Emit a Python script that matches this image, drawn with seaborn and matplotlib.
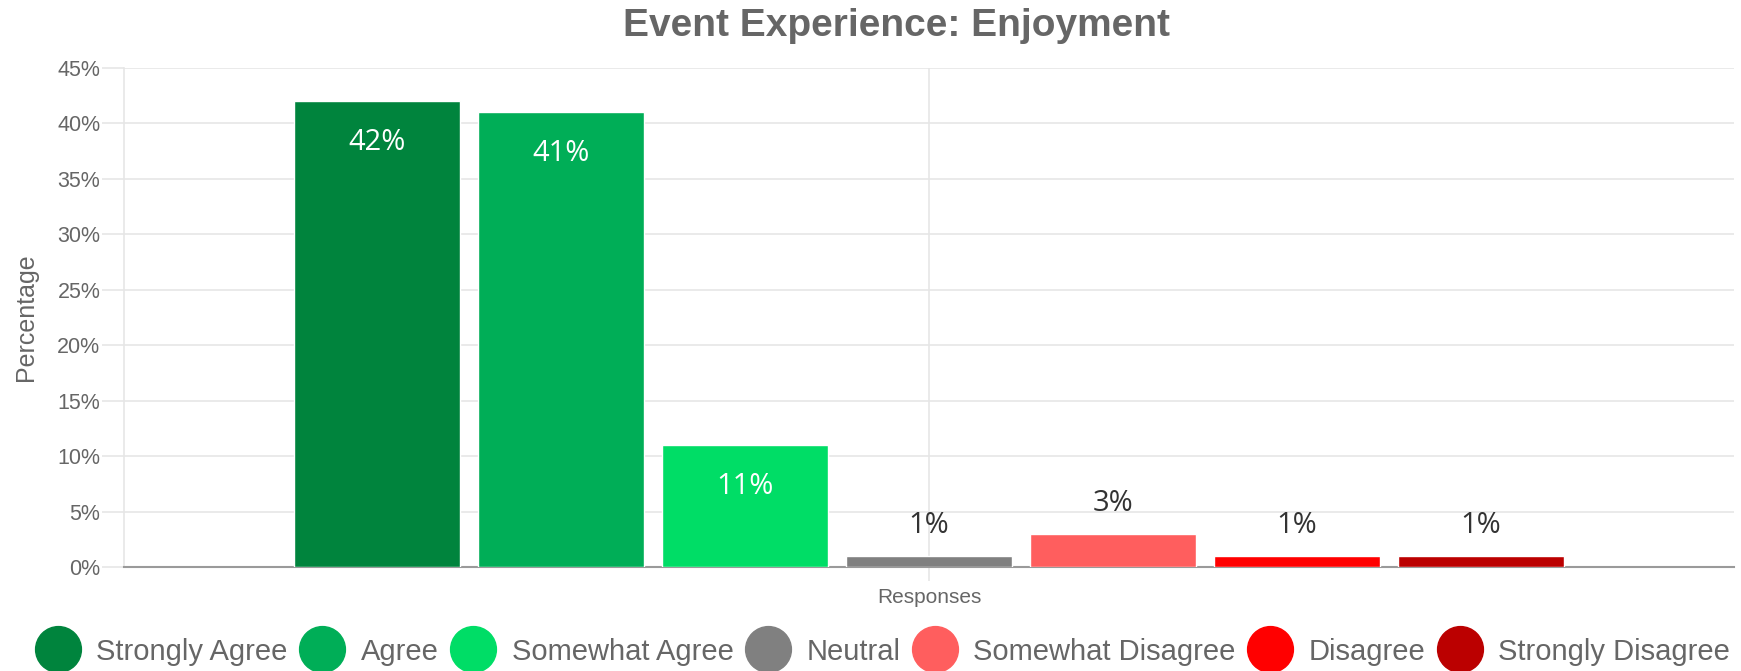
import matplotlib
matplotlib.use("Agg")
import matplotlib.pyplot as plt
from matplotlib.lines import Line2D
from matplotlib.ticker import FuncFormatter, MultipleLocator
import seaborn as sns
import pandas as pd

# Survey responses
categories = ["Strongly Agree", "Agree", "Somewhat Agree", "Neutral",
              "Somewhat Disagree", "Disagree", "Strongly Disagree"]
percentages = [42, 41, 11, 1, 3, 1, 1]
colors = ["#00843d", "#00ae57", "#00dd66", "#808080",
          "#ff5e5e", "#ff0000", "#bb0000"]
group_label = "Responses"
y_ticks = [0, 5, 10, 15, 20, 25, 30, 35, 40, 45]

df = pd.DataFrame({"group": [group_label] * len(categories),
                   "answer": categories,
                   "pct": percentages})

sns.set_theme(style="white")
plt.rcParams["font.family"] = ["Liberation Sans", "DejaVu Sans"]

TEXT = "#666666"
GRID = "#e6e6e6"

fig = plt.figure(figsize=(17.41, 6.71), dpi=100)
ax = fig.add_axes([0.0712, 0.1544, 0.9248, 0.7446])

sns.barplot(data=df, x="group", y="pct", hue="answer",
            hue_order=categories, palette=colors, width=0.8, gap=0.1,
            saturation=1, legend=False, ax=ax, zorder=3)

ax.set_xlim(-0.5, 0.5)
ax.set_ylim(y_ticks[0], y_ticks[-1])
ax.yaxis.set_major_locator(MultipleLocator(5))
ax.yaxis.set_major_formatter(FuncFormatter(lambda v, _: f"{v:.0f}%"))

# grid
ax.yaxis.grid(True, color=GRID, linewidth=1.2, zorder=0)
ax.xaxis.grid(True, color=GRID, linewidth=1.2, zorder=0)
ax.get_ygridlines()[-1].set_visible(False)
for side in ["top", "right"]:
    ax.spines[side].set_visible(False)
ax.spines["left"].set_color(GRID)
ax.spines["left"].set_linewidth(1.2)
ax.spines["bottom"].set_color("#9a9a9a")
ax.spines["bottom"].set_linewidth(1.5)

ax.tick_params(axis="y", length=16, width=1.2, color=GRID, pad=1,
               labelsize=15.5, labelcolor=TEXT, left=True)
ax.tick_params(axis="x", length=10, width=1.2, color=GRID, pad=5,
               labelsize=15, labelcolor=TEXT, bottom=True)
ax.set_xlabel("")
ax.set_ylabel("Percentage", fontsize=18, color=TEXT, labelpad=14)

# value labels
for bar, val in zip(ax.patches, percentages):
    cx = bar.get_x() + bar.get_width() / 2
    top = bar.get_height()
    if val >= 10:
        ax.annotate(f"{val}%", (cx, top), xytext=(0, -30),
                    textcoords="offset points", ha="center", va="center",
                    color="white", fontsize=21, family="Open Sans", zorder=5)
    else:
        ax.annotate(f"{val}%", (cx, top), xytext=(0, 22),
                    textcoords="offset points", ha="center", va="center",
                    color="#333333", fontsize=21, family="Open Sans", zorder=5)

fig.text(0.515, 0.961, "Event Experience: Enjoyment", ha="center",
         va="center", fontsize=28, fontweight="bold", color=TEXT)

handles = [Line2D([0], [0], marker="o", linestyle="none", markersize=33,
                  markerfacecolor=c, markeredgecolor=c)
           for c in colors]
fig.legend(handles, categories, loc="center", bbox_to_anchor=(0.507, 0.029),
           ncol=len(categories), frameon=False, fontsize=21,
           labelcolor=TEXT, handlelength=1.55, handletextpad=0.55,
           columnspacing=0.4, borderpad=0, borderaxespad=0)

fig.savefig("out.png", dpi=100, facecolor="white")
